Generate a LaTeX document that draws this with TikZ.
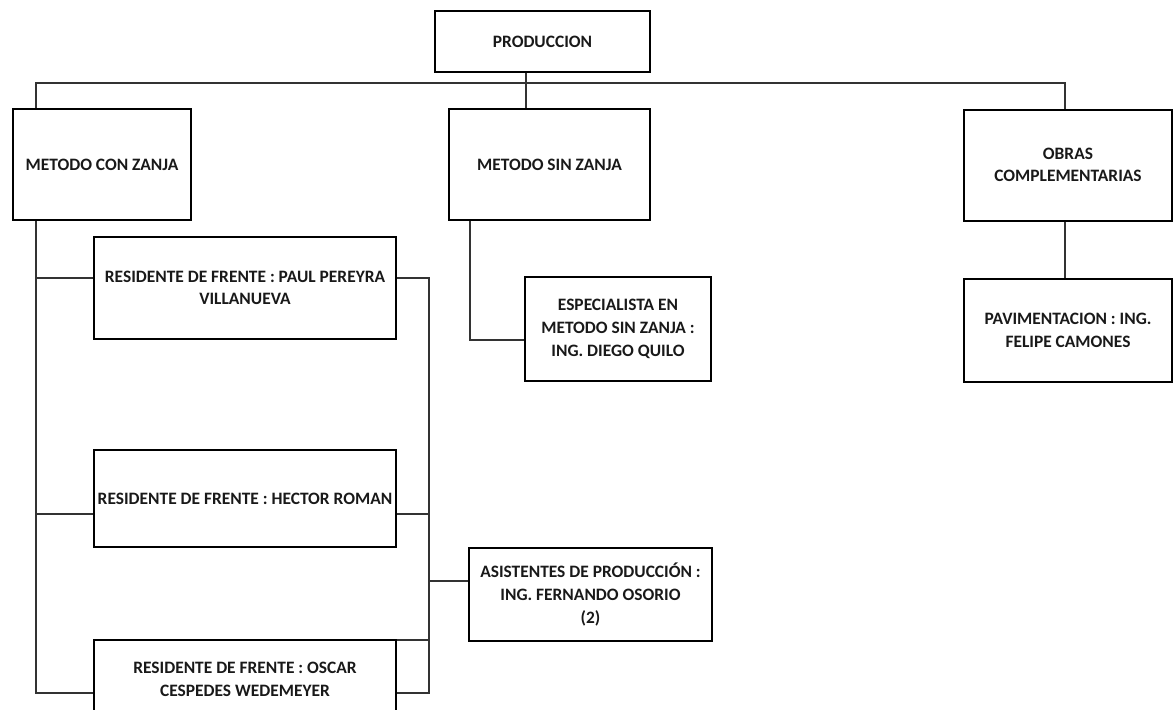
\documentclass[tikz,border=0pt]{standalone}
\usepackage{fontspec}
\setmainfont{Carlito}
\usepackage{tikz}
\usepackage{xcolor}
\usetikzlibrary{positioning,calc}

\tikzset{
  cargo/.style={draw, rectangle, line width=2pt, inner sep=1pt, align=center,
    font=\fontsize{17.4}{22.7}\selectfont\bfseries, text=black!90},
  link/.style={draw=black!80, line width=1.1pt}
}

\begin{document}
\begin{tikzpicture}[x=1pt, y=-1pt]
  \useasboundingbox (0,0) rectangle (1174,709);
  \clip (0,0) rectangle (1174,709);
  % Boxes of the chart
  \node[cargo, minimum width=215, minimum height=60] (prod) at (542.5,41.5) {PRODUCCION};
  \node[cargo, minimum width=178, minimum height=111] (conZ) at (102,164.5) {METODO CON ZANJA};
  \node[cargo, minimum width=201, minimum height=111] (sinZ) at (549.5,164.5) {METODO SIN ZANJA};
  \node[cargo, minimum width=208, minimum height=111] (obras) at (1068,165) {OBRAS\\COMPLEMENTARIAS};
  \node[cargo, minimum width=186, minimum height=104] (esp) at (618,329) {ESPECIALISTA EN\\METODO SIN ZANJA :\\ING. DIEGO QUILO};
  \node[cargo, minimum width=208, minimum height=103] (pavi) at (1068,330) {PAVIMENTACION : ING.\\FELIPE CAMONES};
  \node[cargo, minimum width=302, minimum height=102] (res1) at (245,288) {RESIDENTE DE FRENTE : PAUL PEREYRA\\VILLANUEVA};
  \node[cargo, minimum width=302, minimum height=97] (res2) at (245,498.5) {RESIDENTE DE FRENTE : HECTOR ROMAN};
  \node[cargo, minimum width=302, minimum height=78] (res3) at (245,679) {RESIDENTE DE FRENTE : OSCAR\\CESPEDES WEDEMEYER};
  \node[cargo, minimum width=243, minimum height=93] (asis) at (590.5,594.5) {ASISTENTES DE PRODUCCIÓN :\\ING. FERNANDO OSORIO\\(2)};

  % Top bus
  \coordinate (busL) at (36,83);
  \coordinate (busM) at (526,83);
  \coordinate (busR) at (1065,83);
  \coordinate (sinX) at (470,0);
  \draw[link] (conZ.north -| busL) |- (busR) -- (obras.north -| busR);
  \draw[link] (prod.south -| busM) -- (sinZ.north -| busM);
  \draw[link] (obras.south -| busR) -- (pavi.north -| busR);
  \coordinate (espIn) at ([yshift=-11pt]esp.west);
  \draw[link] (sinZ.south -| sinX) |- (espIn);

  % Left spine to the residents
  \coordinate (l1) at ([yshift=10pt]res1.west);
  \coordinate (l2) at ([yshift=-15.5pt]res2.west);
  \coordinate (l3) at ([yshift=-14pt]res3.west);
  \draw[link] (conZ.south -| busL) |- (l3);
  \foreach \p in {l1,l2} {
    \draw[link] (busL |- \p) -- (\p);
  }

  % Right spine to the assistants
  \coordinate (spR) at (429,0);
  \coordinate (r1) at ([yshift=10pt]res1.east);
  \coordinate (r2) at ([yshift=-15.5pt]res2.east);
  \coordinate (r3) at ([yshift=39pt]res3.east);
  \coordinate (r4) at ([yshift=-14pt]res3.east);
  \coordinate (asIn) at ([yshift=13.5pt]asis.west);
  \draw[link] (r1) -| (spR |- r4) -- (r4);
  \foreach \p in {r2,r3} {
    \draw[link] (\p) -- (spR |- \p);
  }
  \draw[link] (spR |- asIn) -- (asIn);
\end{tikzpicture}
\end{document}
